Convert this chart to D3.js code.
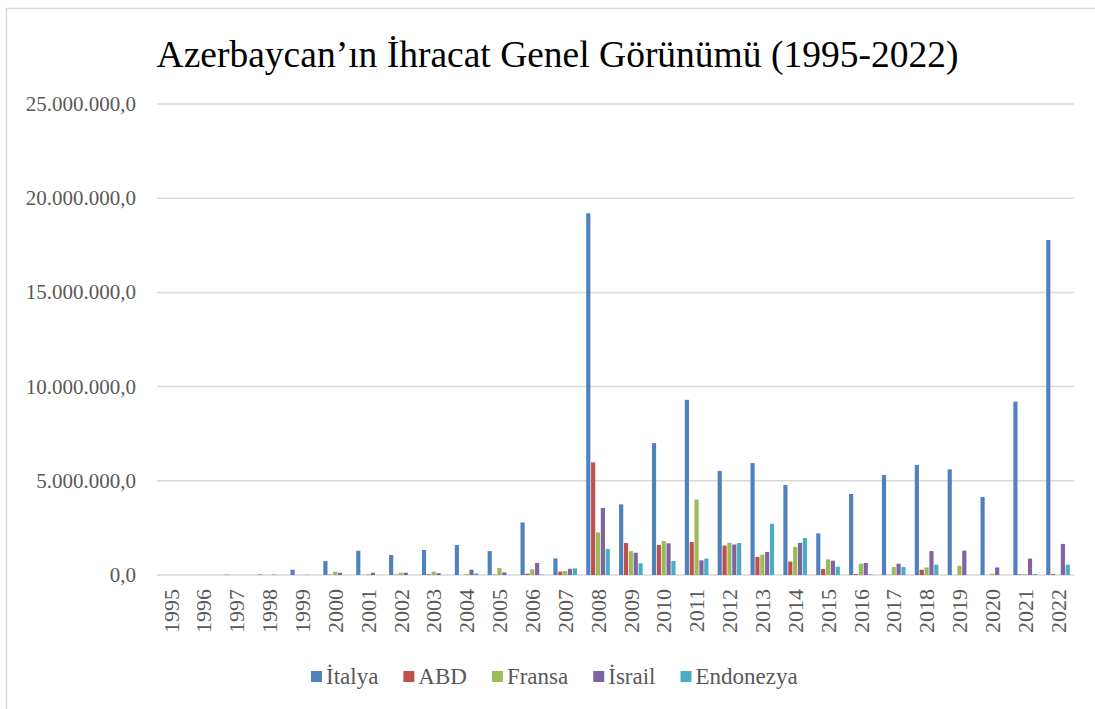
<!DOCTYPE html>
<html><head><meta charset="utf-8">
<script src="https://cdn.jsdelivr.net/npm/d3@7/dist/d3.min.js"></script>
<style>
html,body{margin:0;padding:0;background:#fff;}
svg{display:block;}
</style></head>
<body>
<svg id="chart" width="1095" height="709"></svg>
<script>
const title = "Azerbaycan’ın İhracat Genel Görünümü (1995-2022)";
const years = ["1995","1996","1997","1998","1999","2000","2001","2002","2003","2004","2005","2006","2007","2008","2009","2010","2011","2012","2013","2014","2015","2016","2017","2018","2019","2020","2021","2022"];
const seriesNames = ["İtalya","ABD","Fransa","İsrail","Endonezya"];
const seriesColors = ["#4F81BD","#C0504D","#9BBB59","#8064A2","#4BACC6"];
// values in millions
const italya    = [0,0,0.02,0.03,0.28,0.74,1.29,1.06,1.33,1.59,1.27,2.79,0.88,19.2,3.75,7.0,9.30,5.52,5.94,4.78,2.21,4.30,5.31,5.84,5.61,4.14,9.20,17.78];
const abd       = [0,0,0,0,0,0.02,0,0.02,0.04,0,0.02,0.07,0.18,5.98,1.70,1.59,1.75,1.56,0.96,0.71,0.32,0.05,0.01,0.28,0,0,0.03,0.05];
const fransa    = [0,0,0,0,0.01,0.18,0.03,0.12,0.18,0.05,0.37,0.30,0.21,2.26,1.27,1.80,4.0,1.71,1.08,1.49,0.83,0.60,0.42,0.40,0.49,0.07,0.03,0];
const israil    = [0,0,0,0.02,0.01,0.12,0.12,0.12,0.10,0.28,0.14,0.64,0.33,3.56,1.18,1.68,0.78,1.62,1.22,1.71,0.76,0.64,0.60,1.27,1.29,0.40,0.87,1.65];
const endonezya = [0,0,0,0,0,0,0,0,0,0.08,0,0.02,0.35,1.38,0.62,0.74,0.87,1.70,2.72,1.96,0.44,0.03,0.42,0.55,0,0,0.05,0.55];
const yTicks = [0,5000000,10000000,15000000,20000000,25000000];

const seriesData = [italya, abd, fransa, israil, endonezya];
const svg = d3.select("#chart");
const serif = "Liberation Serif, Times New Roman, serif";

// frame
svg.append("path").attr("d","M6.5,709 V8.5 H1095").attr("fill","none").attr("stroke","#d9d9d9").attr("stroke-width",1.5);

const x0 = d3.scaleBand().domain(years).range([154.5,1074.5]).paddingInner(0.26).paddingOuter(0.13);
const x1 = d3.scaleBand().domain(seriesNames).range([0,x0.bandwidth()]);
const y = d3.scaleLinear().domain([0,25000000]).range([575,104]);

// gridlines
svg.append("g").selectAll("line").data(yTicks).join("line")
  .attr("x1",157).attr("x2",1074)
  .attr("y1",d=>y(d)).attr("y2",d=>y(d))
  .attr("stroke","#d9d9d9").attr("stroke-width",1.5);

// y labels
const fmt = d => d3.format(",.1f")(d).replace(/,/g,"#").replace(".",",").replace(/#/g,".");
svg.append("g").selectAll("text").data(yTicks).join("text")
  .attr("x",136).attr("y",d=>y(d)).attr("dy","0.33em")
  .attr("text-anchor","end")
  .style("font-family",serif).attr("font-size",21).attr("fill","#595959")
  .text(fmt);

// bars
const g = svg.append("g");
years.forEach((yr,i)=>{
  seriesData.forEach((arr,s)=>{
    const v = arr[i]*1e6;
    if(v<=0) return;
    g.append("rect")
      .attr("x",x0(yr)+x1(seriesNames[s])+0.3)
      .attr("width",x1.bandwidth()-0.7)
      .attr("y",y(v))
      .attr("height",y(0)-y(v))
      .attr("fill",seriesColors[s]);
  });
});

// x labels
svg.append("g").selectAll("text").data(years).join("text")
  .attr("transform",d=>`translate(${x0(d)+x0.bandwidth()/2},589) rotate(-90)`)
  .attr("dy","0.35em")
  .attr("text-anchor","end")
  .style("font-family",serif).attr("font-size",22).attr("fill","#595959")
  .text(d=>d);

// title
svg.append("text").attr("x",557.5).attr("y",67).attr("text-anchor","middle")
  .style("font-family",serif).attr("font-size",37.5).attr("fill","#000")
  .text(title);

// legend
const leg = svg.append("g");
let lx = 311;
seriesNames.forEach((n,s)=>{
  leg.append("rect").attr("x",lx).attr("y",671).attr("width",11).attr("height",11).attr("fill",seriesColors[s]);
  const t = leg.append("text").attr("x",lx+15).attr("y",684)
    .style("font-family",serif).attr("font-size",23).attr("fill","#595959").text(n);
  lx += 15 + t.node().getComputedTextLength() + 25;
});
</script>
</body></html>
